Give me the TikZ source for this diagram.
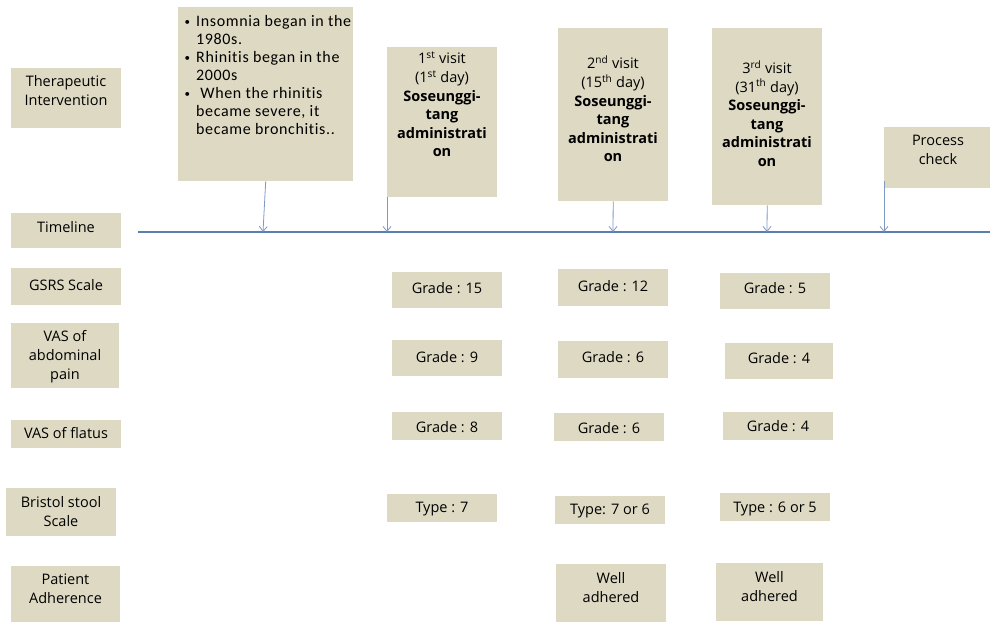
\documentclass[tikz,border=0pt]{standalone}
\usepackage{fontspec}
\setmainfont{Open Sans}
\newfontfamily\bulletfont[LetterSpace=4,Ligatures={NoCommon}]{Carlito}
\usetikzlibrary{arrows.meta}
\definecolor{boxtan}{HTML}{DDD9C3}
\definecolor{arrowblue}{HTML}{7F98C4}
\definecolor{lineblue}{HTML}{5A7FAE}
\newcommand{\tbox}[7]{%
  \node[tanbox,minimum width={#4-#2},minimum height={#5-#3},anchor=north west] (#1) at (#2,#3) {};
  \node[txt] (#1-t) at ({(#2+#4)/2},#6) {#7};}
\newcommand{\bl}{\makebox[13pt][l]{\hspace{1.5pt}\raisebox{1pt}{\fontsize{11}{11}\selectfont •}}}
\newcommand{\ind}{\hspace*{13pt}}
\begin{document}
\begin{tikzpicture}[x=1pt,y=-1pt,
  tanbox/.style={fill=boxtan,draw=none,inner sep=0pt},
  txt/.style={inner sep=0pt,align=center,font=\fontsize{14.5}{19}\selectfont},
  pointer/.style={draw=arrowblue,line width=0.8pt,-{Straight Barb[length=5pt,width=8pt]}}]
\useasboundingbox (0,0) rectangle (990,622);
% left labels
\tbox{ti}{11}{68}{121}{128}{90.5}{Therapeutic\\Intervention}
\tbox{tl}{11}{213}{121}{248}{227}{Timeline}
\tbox{gs}{11}{268}{121}{305}{285}{GSRS Scale}
\tbox{va}{11}{323}{119}{388}{357}{VAS of\\abdominal\\pain}
\tbox{vf}{11}{420}{121}{448}{433}{VAS of flatus}
\tbox{bs}{6}{488}{116}{536}{512}{Bristol stool\\Scale}
\tbox{pa}{11}{566}{120}{622}{588.5}{Patient\\Adherence}
% timeline
\coordinate (tls) at (138,232);
\coordinate (tle) at (990,232);
\draw[lineblue,line width=1.2pt] (tls) -- (tle);
% top boxes
\node[tanbox,minimum width=175,minimum height=174,anchor=north west] (hist) at (178,7) {};
\node[anchor=west,align=left,inner sep=0pt,font=\bulletfont\fontsize{16}{18}\selectfont] (histtxt) at (183,75.5)
 {\bl Insomnia began in the\\\ind 1980s.\\\bl Rhinitis began in the\\\ind 2000s\\\bl\ When the rhinitis\\\ind became severe, it\\\ind became bronchitis..};
\tikzset{visit/.style={txt,font=\fontsize{14.5}{18.6}\selectfont}}
\node[tanbox,anchor=north west,minimum width=110,minimum height=150] (v1) at (387,47) {};
\node[visit] (v1t) at (442,104.5) {1\textsuperscript{st} visit\\(1\textsuperscript{st} day)\\\textbf{Soseunggi-}\\\textbf{tang}\\\textbf{administrati}\\\textbf{on}};
\node[tanbox,anchor=north west,minimum width=110,minimum height=173] (v2) at (558,28) {};
\node[visit] (v2t) at (613,109) {2\textsuperscript{nd} visit\\(15\textsuperscript{th} day)\\\textbf{Soseunggi-}\\\textbf{tang}\\\textbf{administrati}\\\textbf{on}};
\node[tanbox,anchor=north west,minimum width=110,minimum height=177] (v3) at (712,28) {};
\node[visit] (v3t) at (767,113.5) {3\textsuperscript{rd} visit\\(31\textsuperscript{th} day)\\\textbf{Soseunggi-}\\\textbf{tang}\\\textbf{administrati}\\\textbf{on}};
\node[tanbox,anchor=north west,minimum width=106,minimum height=61] (pc) at (884,127) {};
\node[visit] (pct) at (938,150) {Process\\check};
% pointers
\coordinate (a1) at (263,232); \coordinate (a2) at (387,232); \coordinate (a3) at (613,232);
\coordinate (a4) at (767,232); \coordinate (a5) at (884,232);
\draw[pointer] (hist.south) -- (a1);
\draw[pointer] (v1.south west) -- (a2);
\draw[pointer] (v2.south) -- (a3);
\draw[pointer] (v3.south) -- (a4);
\draw[pointer] ([yshift=7pt]pc.south west) -- (a5);
% grade rows
\tbox{g1}{392}{272}{502}{308}{288}{Grade : 15}
\tbox{g2}{558}{269}{668}{306}{286}{Grade : 12}
\tbox{g3}{720}{273}{830}{309}{288}{Grade : 5}
\tbox{p1}{392}{340}{502}{376}{357}{Grade : 9}
\tbox{p2}{558}{341}{668}{378}{357}{Grade : 6}
\tbox{p3}{725}{343}{833}{379}{358}{Grade : 4}
\tbox{f1}{392}{412}{502}{440}{427}{Grade : 8}
\tbox{f2}{554}{413}{664}{441}{428}{Grade : 6}
\tbox{f3}{723}{412}{833}{440}{426}{Grade : 4}
\tbox{b1}{387}{494}{497}{522}{509}{Type : 7}
\tbox{b2}{555}{496}{665}{524}{511}{Type: 7 or 6}
\tbox{b3}{720}{493}{830}{521}{509}{Type : 6 or 5}
\tbox{w1}{556}{564}{666}{622}{587.5}{Well\\adhered}
\tbox{w2}{716}{563}{823}{621}{587}{Well\\adhered}
\end{tikzpicture}
\end{document}
